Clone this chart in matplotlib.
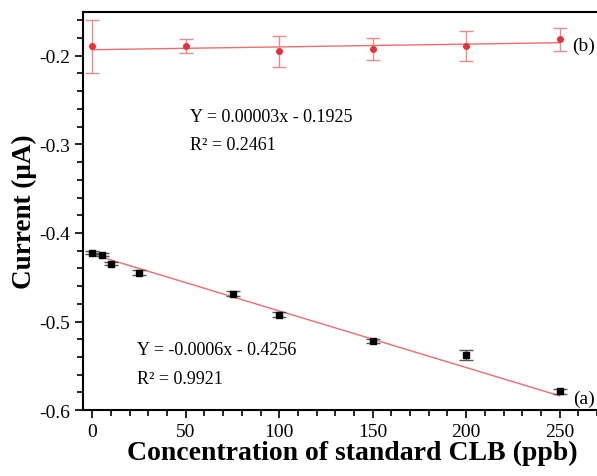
import matplotlib
matplotlib.use("Agg")
import matplotlib.pyplot as plt
from matplotlib.ticker import MultipleLocator
import numpy as np

plt.rcParams['font.family'] = ['Liberation Serif', 'DejaVu Serif']

# Series (a): black squares
xa = [0, 5, 10, 25, 75, 100, 150, 200, 250]
ya = [-0.4222, -0.4244, -0.4346, -0.4447, -0.4684, -0.4921, -0.5218, -0.5376, -0.5786]
ea = [0.0015, 0.002, 0.002, 0.003, 0.003, 0.003, 0.002, 0.006, 0.003]
fit_a_x = [0, 250]
fit_a_y = [-0.4241, -0.5838]

# Series (b): red dots
xb = [0, 50, 100, 150, 200, 250]
yb = [-0.1894, -0.1894, -0.1952, -0.1927, -0.1894, -0.1813]
eb = [0.030, 0.008, 0.017, 0.0123, 0.017, 0.0128]
fit_b_x = [0, 250]
fit_b_y = [-0.1932, -0.1853]

fig = plt.figure(figsize=(5.97, 4.77), dpi=100)
ax = fig.add_axes([0.139, 0.138, 0.861, 0.835])

ax.plot(fit_a_x, fit_a_y, color='#f26b6b', lw=1.0, zorder=2)
ax.plot(fit_b_x, fit_b_y, color='#f26b6b', lw=1.0, zorder=2)
ax.errorbar(xa, ya, yerr=ea, fmt='s', color='black', ms=4, ecolor='#555555',
            elinewidth=1.0, capsize=5, capthick=1.0, zorder=3)
ax.errorbar(xb, yb, yerr=eb, fmt='o', color='#e8303a', ms=4, ecolor='#f08a8a',
            elinewidth=1.0, capsize=5, capthick=1.0, zorder=3)

ax.set_xlim(-5, 270)
ax.set_ylim(-0.6, -0.1505)
ax.xaxis.set_major_locator(MultipleLocator(50))
ax.xaxis.set_minor_locator(MultipleLocator(10))
ax.yaxis.set_major_locator(MultipleLocator(0.1))
ax.yaxis.set_minor_locator(MultipleLocator(0.02))
ax.tick_params(axis='both', which='major', direction='out', length=6, width=1.2, labelsize=14)
ax.tick_params(axis='both', which='minor', direction='out', length=4, width=1.2)
ax.yaxis.set_major_formatter(matplotlib.ticker.FuncFormatter(lambda v, p: f"{v:.1f}"))
for s in ['left', 'bottom', 'top']:
    ax.spines[s].set_linewidth(1.5)
ax.spines['right'].set_visible(False)

ax.set_xlabel('Concentration of standard CLB (ppb)', fontsize=20, fontweight='bold')
ax.xaxis.set_label_coords(0.523, -0.075, transform=ax.transAxes)
ax.xaxis.label.set_va('top')
ax.set_ylabel('Current (μA)', fontsize=19.5, fontweight='bold', labelpad=1)

ax.text(52, -0.2685, 'Y = 0.00003x - 0.1925', fontsize=13, va='center')
ax.text(52, -0.300, 'R² = 0.2461', fontsize=13, va='center')
ax.text(24, -0.531, 'Y = -0.0006x - 0.4256', fontsize=13, va='center')
ax.text(24, -0.564, 'R² = 0.9921', fontsize=13, va='center')
ax.text(256.5, -0.188, '(b)', fontsize=14, va='center')
ax.text(257, -0.5865, '(a)', fontsize=14, va='center')

fig.savefig('out.png', dpi=100)
